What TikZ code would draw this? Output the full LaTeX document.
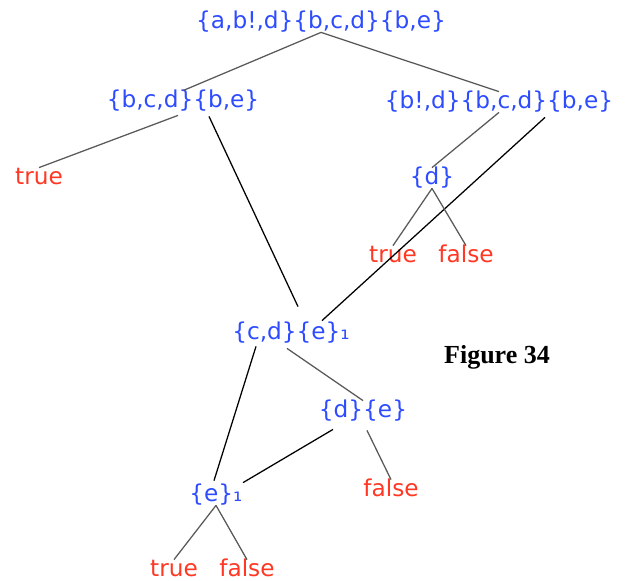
\documentclass[tikz,border=0pt]{standalone}
\usepackage{fontspec}
\setmainfont{DejaVu Sans}
\newfontfamily\figfont{Liberation Serif}
\usetikzlibrary{calc}
\definecolor{setblue}{RGB}{45,75,255}
\definecolor{leafred}{RGB}{255,55,35}

\begin{document}
\begin{tikzpicture}[x=0.025cm, y=-0.025cm,
    every node/.style={font=\fontsize{16.5}{18}\selectfont, inner xsep=3pt, inner ysep=0.7pt, text height=1.1em, text depth=0.2em},
    set/.style={text=setblue},
    leaf/.style={text=leafred},
    edge/.style={draw=black!65, line width=0.9pt},
    link/.style={draw=black, line width=0.9pt}]
    \useasboundingbox (0,0) rectangle (629,580);

    % Knoten
    \node[set] (root) at (321,22) {\{a,b!,d\}\{b,c,d\}\{b,e\}};
    \node[set] (n1) at (183,101) {\{b,c,d\}\{b,e\}};
    \node[set] (n2) at (499,102) {\{b!,d\}\{b,c,d\}\{b,e\}};
    \node[leaf] (t1) at (39,178) {true};
    \node[set] (d) at (432,178) {\{d\}};
    \node[leaf] (t2) at (393,256) {true};
    \node[leaf] (f2) at (466,256) {false};
    \node[set] (cd) at (291,333) {\{c,d\}\{e\}₁};
    \node[set] (de) at (363,411) {\{d\}\{e\}};
    \node[leaf] (f3) at (391,490) {false};
    \node[set] (e1) at (216,495) {\{e\}₁};
    \node[leaf] (t3) at (174,570) {true};
    \node[leaf] (f4) at (247,570) {false};
    \node[font=\figfont\bfseries\fontsize{18.5}{20}\selectfont] (fig) at (497,357) {Figure 34};

    % Kanten
    \draw[edge] (root.south) -- (n1.north);
    \draw[edge] (root.south) -- (n2.north);
    \draw[edge] ($(n1.south)+(-5,4)$) -- (t1.north);
    \draw[link] ($(n1.south)+(26,5)$) -- ($(cd.north)+(7,-16)$);
    \draw[edge] (n2.south) -- (d.north);
    \draw[link] ($(n2.south)+(46,5)$) -- ($(cd.north)+(31,-2)$);
    \draw[edge] (d.south) -- (t2.north);
    \draw[edge] (d.south) -- (f2.north);

    % untere Hälfte
    \draw[link] ($(cd.south)+(-35,3)$) -- ($(e1.north)+(-2,-4)$);
    \draw[edge] ($(cd.south)+(-4,5)$) -- (de.north);
    \draw[link] ($(de.south)+(-30,8)$) -- ($(e1.north east)+(-4,-2)$);
    \draw[edge] ($(de.south)+(4,9)$) -- (f3.north);
    \draw[edge] (e1.south) -- (t3.north);
    \draw[edge] (e1.south) -- (f4.north);
\end{tikzpicture}
\end{document}
